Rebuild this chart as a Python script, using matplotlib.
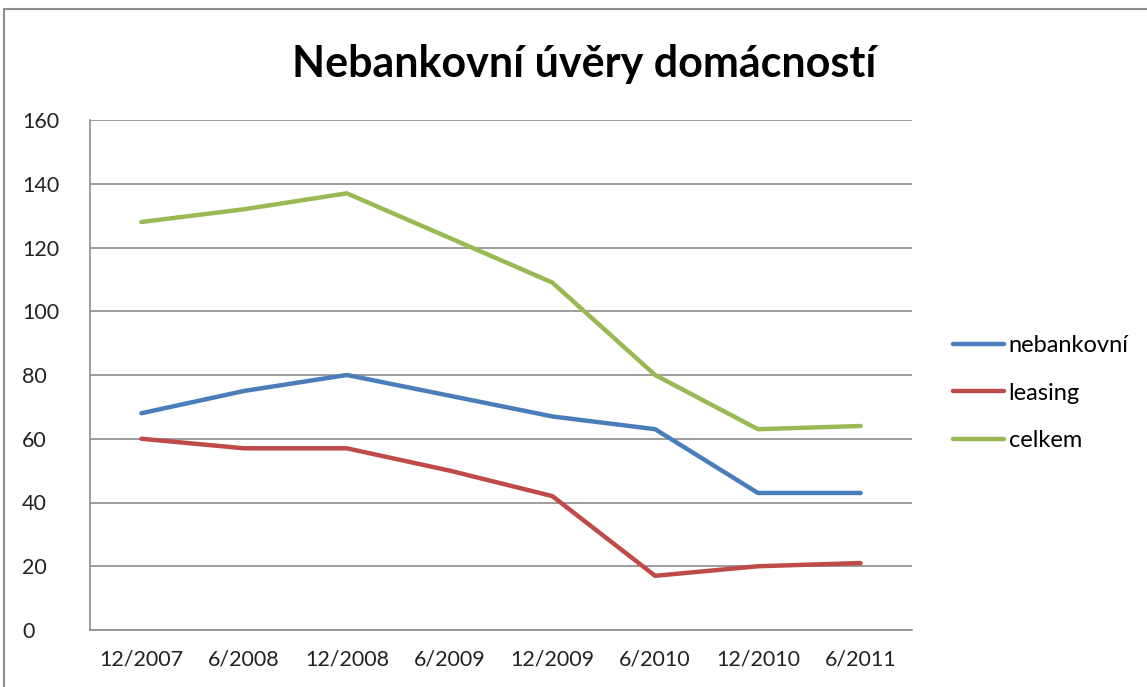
import matplotlib
matplotlib.use("Agg")
import matplotlib.pyplot as plt
from matplotlib.patches import Rectangle
import matplotlib.transforms as mtransforms

categories = ["12/2007", "6/2008", "12/2008", "6/2009", "12/2009", "6/2010", "12/2010", "6/2011"]
nebankovni = [68, 75, 80, 73.5, 67, 63, 43, 43]
leasing = [60, 57, 57, 50, 42, 17, 20, 21]
celkem = [128, 132, 137, 123, 109, 80, 63, 64]
series_names = ["nebankovní", "leasing", "celkem"]
colors = ["#4a7ebb", "#be4b48", "#98b954"]

plt.rcParams['font.family'] = ['Lato', 'DejaVu Sans']

fig = plt.figure(figsize=(11.47, 6.87), dpi=100)
ax = fig.add_axes([90/1147, 57/687, 822/1147, 510/687])

x = list(range(len(categories)))
for vals, name, c in zip([nebankovni, leasing, celkem], series_names, colors):
    ax.plot(x, vals, color=c, lw=3.2, label=name, solid_capstyle='round', solid_joinstyle='round')

ax.set_xlim(-0.5, len(categories) - 0.5)
ax.set_ylim(0, 160)
ax.set_yticks(range(0, 161, 20))
ax.set_xticks(x)
ax.set_xticklabels(categories)
ax.tick_params(axis='both', length=0, labelsize=15.5, colors='#222222')
ax.tick_params(axis='x', pad=14)
ax.yaxis.set_tick_params(pad=0)
for lbl in ax.get_yticklabels():
    lbl.set_horizontalalignment('left')
    lbl.set_transform(lbl.get_transform() + mtransforms.ScaledTranslation(-0.68, 0, fig.dpi_scale_trans))

ax.grid(axis='y', color='#8c8c8c', lw=1.2)
ax.set_axisbelow(True)
for s in ['top', 'right']:
    ax.spines[s].set_visible(False)
ax.spines['left'].set_color('#8c8c8c')
ax.spines['bottom'].set_color('#8c8c8c')
ax.spines['left'].set_linewidth(1.2)
ax.spines['bottom'].set_linewidth(1.2)

fig.text(584/1147, 1 - 64/687, "Nebankovní úvěry domácností", ha='center', va='center',
         fontsize=31, fontweight='bold', color='black')

leg = ax.legend(loc='center left', bbox_to_anchor=(932/1147, 1 - 393/687), bbox_transform=fig.transFigure,
                frameon=False, fontsize=17, handlelength=2.15, handletextpad=0.2, labelspacing=1.12,
                borderpad=0.4)

fig.patches.append(Rectangle((4/1147, -0.1), 1.2, 1 - 9/687 + 0.1, transform=fig.transFigure,
                             fill=False, edgecolor='#8c8c8c', lw=1.5))

fig.savefig("out.png", dpi=100)
